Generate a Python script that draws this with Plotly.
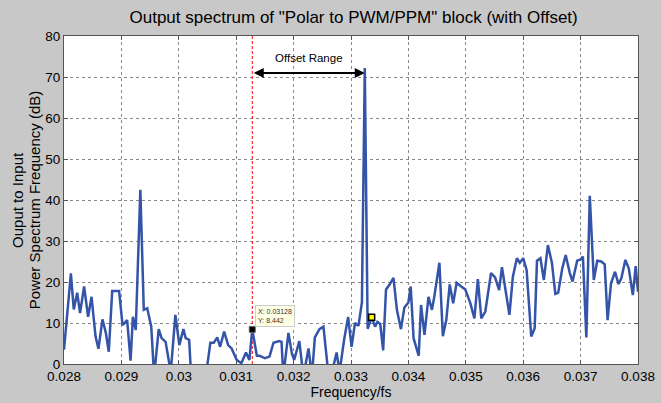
import plotly.graph_objects as go

# frequency (normalised to fs) and power spectrum (dB)
freq = [0.02800, 0.02812, 0.02817, 0.02823, 0.02828, 0.02835, 0.02842, 0.02848, 0.02855, 0.02860,
        0.02867, 0.02873, 0.02878, 0.02884, 0.02896, 0.02902, 0.02905, 0.02910, 0.02916, 0.02920,
        0.02925, 0.02933, 0.02939, 0.02945, 0.02952, 0.02957, 0.02965, 0.02970, 0.02977, 0.02986,
        0.02994, 0.03001, 0.03008, 0.03012, 0.03018, 0.03022, 0.03037, 0.03048, 0.03055, 0.03061,
        0.03067, 0.03072, 0.03079, 0.03086, 0.03092, 0.03101, 0.03109, 0.03117, 0.03123, 0.03128,
        0.03136, 0.03141, 0.03150, 0.03158, 0.03165, 0.03175, 0.03179, 0.03182, 0.03191, 0.03197,
        0.03201, 0.03210, 0.03217, 0.03226, 0.03232, 0.03237, 0.03245, 0.03252, 0.03261, 0.03265,
        0.03275, 0.03280, 0.03288, 0.03295, 0.03301, 0.03307, 0.03313, 0.03319, 0.03324, 0.03329,
        0.03336, 0.03342, 0.03346, 0.03351, 0.03356, 0.03361, 0.03367, 0.03374, 0.03380, 0.03387,
        0.03393, 0.03400, 0.03404, 0.03409, 0.03418, 0.03422, 0.03428, 0.03435, 0.03441, 0.03445,
        0.03454, 0.03460, 0.03466, 0.03472, 0.03478, 0.03484, 0.03492, 0.03499, 0.03508, 0.03515,
        0.03521, 0.03527, 0.03534, 0.03544, 0.03551, 0.03558, 0.03563, 0.03570, 0.03576, 0.03582,
        0.03589, 0.03594, 0.03600, 0.03606, 0.03610, 0.03614, 0.03620, 0.03624, 0.03630, 0.03636,
        0.03643, 0.03650, 0.03656, 0.03661, 0.03668, 0.03674, 0.03681, 0.03686, 0.03694, 0.03700,
        0.03704, 0.03710, 0.03716, 0.03723, 0.03729, 0.03736, 0.03742, 0.03747, 0.03753, 0.03760,
        0.03766, 0.03771, 0.03778, 0.03784, 0.03791, 0.03796, 0.03800]
power_db = [3.5, 22.1, 13.3, 17.4, 12.4, 18.9, 11.5, 16.4, 6.7, 3.7,
            10.9, 7.5, 3.0, 17.8, 17.8, 9.5, 9.9, 10.7, 0.8, 11.5,
            8.3, 42.5, 13.2, 13.6, 9.1, -3.0, 8.5, 6.3, 5.4, -2.0,
            12.0, 4.6, 8.5, 6.3, 5.9, -4.0, -6.0, -2.0, 5.2, 5.2,
            6.5, 4.2, 7.9, 4.6, 3.8, 1.0, 0.2, 2.8, 1.0, 8.442,
            2.0, 2.0, 1.4, 1.8, 5.2, 5.6, 5.4, -3.0, 7.6, 2.6,
            1.0, 5.6, -3.0, 3.8, -3.0, 6.5, 8.5, 9.1, -3.0, -3.0,
            2.8, -2.0, 5.9, 11.5, 4.2, 10.0, 9.3, 15.0, 72.2, 8.6,
            11.4, 9.1, 10.3, 9.8, 3.3, 18.2, 19.3, 21.0, 13.2, 8.5,
            13.8, 15.0, 18.9, 6.3, 2.0, 14.4, 7.1, 16.4, 13.2, 16.3,
            24.7, 6.8, 10.7, 19.4, 14.8, 19.8, 18.9, 18.2, 14.8, 11.1,
            20.7, 11.1, 12.8, 22.2, 21.1, 18.0, 23.6, 17.2, 12.0, 21.3,
            25.8, 24.7, 25.8, 22.9, 15.6, 6.7, 8.7, 25.2, 25.8, 20.5,
            29.0, 24.7, 17.1, 17.4, 23.3, 26.6, 22.3, 20.1, 25.2, 25.5,
            26.2, 6.5, 41.0, 20.5, 25.2, 25.0, 24.3, 10.7, 19.7, 22.5,
            19.5, 20.9, 25.4, 23.3, 16.8, 23.9, 17.6]

x_ticks = [0.028, 0.029, 0.030, 0.031, 0.032, 0.033, 0.034, 0.035, 0.036, 0.037, 0.038]
x_tick_text = ["0.028", "0.029", "0.03", "0.031", "0.032", "0.033", "0.034", "0.035", "0.036", "0.037", "0.038"]

offset_f = 0.03128
offset_db = 8.442
tone_f = 0.03324
arrow_db = 71
tip2_f = 0.03336
tip2_db = 11.4

font = "Liberation Sans, Arial, sans-serif"

fig = go.Figure()

# red dashed offset marker
fig.add_trace(go.Scatter(
    x=[offset_f, offset_f], y=[0, 80], mode="lines",
    line=dict(color="#ff0000", width=1, dash="3px,2px"), hoverinfo="skip"
))

fig.add_trace(go.Scatter(
    x=freq, y=power_db, mode="lines",
    line=dict(color="#3354a8", width=2.5),
))

# data tips
fig.add_trace(go.Scatter(
    x=[offset_f], y=[offset_db], mode="markers",
    marker=dict(color="black", size=6, symbol="square", line=dict(color="#666666", width=1)),
))
fig.add_trace(go.Scatter(
    x=[tip2_f], y=[tip2_db], mode="markers",
    marker=dict(color="#ffff00", size=6, symbol="square", line=dict(color="black", width=1.5)),
))

fig.add_annotation(
    x=offset_f, y=offset_db, xref="x", yref="y",
    text="X: 0.03128<br>Y: 8.442", showarrow=False,
    xanchor="left", yanchor="bottom", xshift=3, yshift=2,
    align="left", font=dict(family=font, size=7, color="#333333"),
    bgcolor="#ffffe6", bordercolor="#cccccc", borderwidth=1, borderpad=2
)

# offset range double arrow
fig.add_annotation(
    x=tone_f, y=arrow_db, ax=offset_f, ay=arrow_db,
    xref="x", yref="y", axref="x", ayref="y",
    text="", showarrow=True, arrowhead=2, arrowside="end+start",
    arrowsize=1, arrowwidth=2, arrowcolor="black"
)
fig.add_annotation(
    x=(offset_f + tone_f) / 2, y=arrow_db, xref="x", yref="y",
    text="Offset Range", showarrow=False, yanchor="bottom", yshift=7,
    font=dict(family=font, size=11.5, color="black")
)

# y-axis title as two rotated lines (tight line spacing like the original)
fig.add_annotation(
    x=-0.082, y=0.5, xref="paper", yref="paper", text="Ouput to Input",
    textangle=-90, showarrow=False, xanchor="center", yanchor="middle",
    font=dict(family=font, size=15, color="black")
)
fig.add_annotation(
    x=-0.052, y=0.5, xref="paper", yref="paper", text="Power Spectrum Frequency (dB)",
    textangle=-90, showarrow=False, xanchor="center", yanchor="middle",
    font=dict(family=font, size=15, color="black")
)

axis_common = dict(
    showgrid=True, gridcolor="#888888", griddash="dot", gridwidth=1,
    showline=True, linecolor="#555555", linewidth=1, mirror="ticks",
    ticks="inside", ticklen=4, tickcolor="#555555",
    tickfont=dict(family=font, size=13.5, color="black"),
    zeroline=False, automargin=False,
)

fig.update_layout(
    width=661, height=403,
    paper_bgcolor="#c8c8c8", plot_bgcolor="white",
    margin=dict(l=64, r=23, t=36, b=39),
    showlegend=False,
    title=dict(
        text='Output spectrum of "Polar to PWM/PPM" block (with Offset)',
        x=0.535, xanchor="center", y=0.957, yanchor="middle",
        font=dict(family=font, size=17, color="black")
    ),
    xaxis=dict(
        range=[0.028, 0.038], tickvals=x_ticks, ticktext=x_tick_text,
        title=dict(text="Frequency/fs", font=dict(family=font, size=14, color="black"), standoff=0),
        **axis_common
    ),
    yaxis=dict(
        range=[0, 80], tickvals=list(range(0, 81, 10)),
        **axis_common
    ),
)

fig.write_html("out.html", config={"displayModeBar": False},
               post_script="document.body.style.margin='0';")
